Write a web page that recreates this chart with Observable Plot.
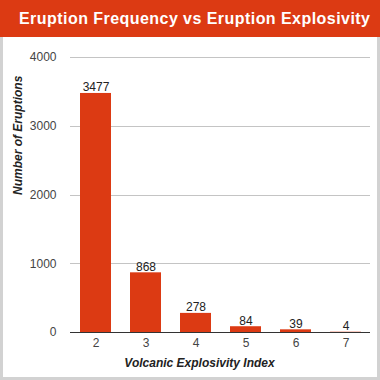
<!DOCTYPE html>
<html><head><meta charset="utf-8">
<script src="https://cdn.jsdelivr.net/npm/d3@7"></script>
<script src="https://cdn.jsdelivr.net/npm/@observablehq/plot@0.6"></script>
<style>
html,body{margin:0;padding:0;background:#fff;}
#wrap{position:relative;width:380px;height:380px;overflow:hidden;font-family:"Liberation Sans",Arial,sans-serif;}
#head{position:absolute;left:0;top:0;width:380px;height:37px;background:#dc3a13;}
#title{position:absolute;left:19px;top:9px;color:#fff;font-weight:bold;font-size:16px;letter-spacing:0.45px;white-space:nowrap;line-height:20px;}
#chart{position:absolute;left:0;top:38px;}
#frame{position:absolute;left:0;top:37px;width:374px;height:340px;border:3px solid #d2d2d2;border-top:none;pointer-events:none;}
</style></head>
<body>
<div id="wrap">
<div id="head"><div id="title">Eruption Frequency vs Eruption Explosivity</div></div>
<div id="chart"></div>
<div id="frame"></div>
</div>
<script>
const categories = ["2","3","4","5","6","7"];
const eruptions = [3477, 868, 278, 84, 39, 4];
const yTicks = [0, 1000, 2000, 3000, 4000];
const xTitle = "Volcanic Explosivity Index";
const yTitle = "Number of Eruptions";
const data = categories.map((c, i) => ({vei: c, n: eruptions[i]}));
const chart = Plot.plot({
  width: 380,
  height: 342,
  marginTop: 19,
  marginBottom: 48,
  marginLeft: 70,
  marginRight: 10,
  style: {fontFamily: '"Liberation Sans", Arial, sans-serif', fontSize: "12px", background: "transparent"},
  x: {domain: categories, paddingInner: 0.38, paddingOuter: 0.19, label: null},
  y: {domain: [0, 4000], label: null},
  marks: [
    Plot.ruleY(yTicks, {stroke: "#c4c4c4", strokeWidth: 1, shapeRendering: "crispEdges"}),
    Plot.axisY(yTicks, {tickSize: 0, tickPadding: 14, fill: "#444", fontSize: 12, label: null, tickFormat: d => String(d)}),
    Plot.axisX({tickSize: 0, tickPadding: 6, fill: "#444", fontSize: 12, label: null}),
    Plot.barY(data, {x: "vei", y: "n", fill: "#dc3a13"}),
    Plot.ruleY([0], {stroke: "#333", strokeWidth: 1.2}),
    Plot.text(data, {x: "vei", y: "n", text: d => String(d.n), lineAnchor: "bottom", dy: -2, fill: "#222", fontSize: 12}),
    Plot.text([xTitle], {frameAnchor: "bottom", dx: -21, dy: 34, fill: "#222", fontSize: 12, fontWeight: "bold", fontStyle: "italic"}),
    Plot.text([yTitle], {frameAnchor: "left", dx: -52, rotate: -90, fill: "#222", fontSize: 12, fontWeight: "bold", fontStyle: "italic"})
  ]
});
document.getElementById("chart").appendChild(chart);
</script>
</body></html>
